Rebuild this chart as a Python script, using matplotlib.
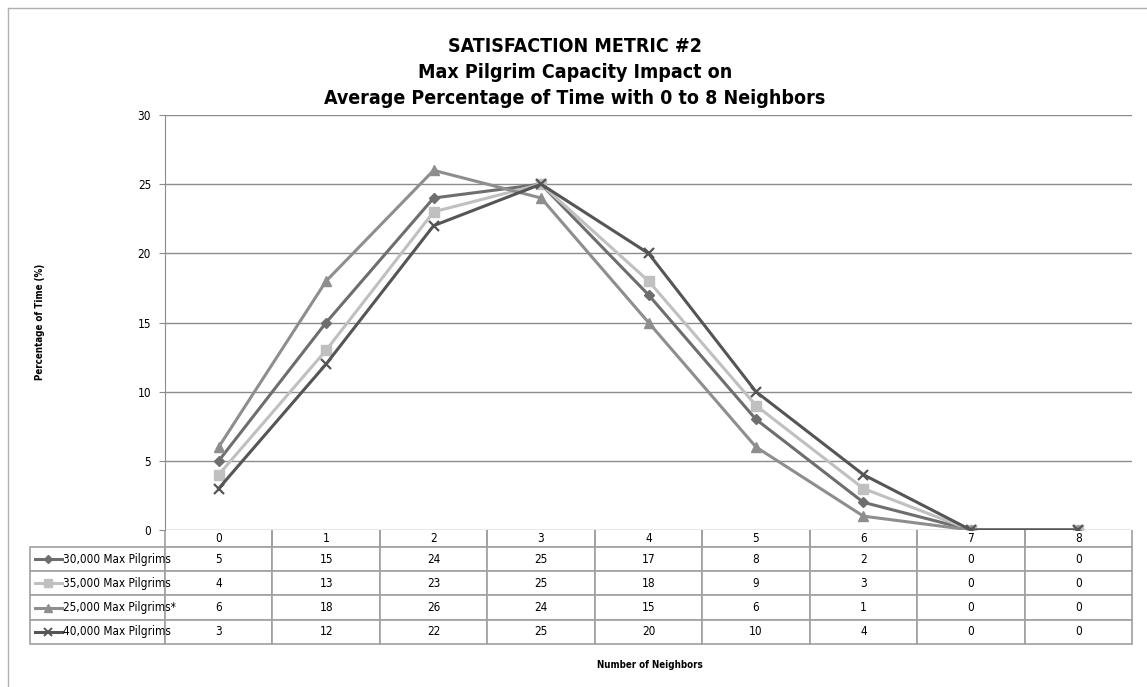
import matplotlib.pyplot as plt
from matplotlib.lines import Line2D

# data
neighbors = ['0', '1', '2', '3', '4', '5', '6', '7', '8']
series_names = ['30,000 Max Pilgrims', '35,000 Max Pilgrims',
                '25,000 Max Pilgrims*', '40,000 Max Pilgrims']
pilgrims_30k = [5, 15, 24, 25, 17, 8, 2, 0, 0]
pilgrims_35k = [4, 13, 23, 25, 18, 9, 3, 0, 0]
pilgrims_25k = [6, 18, 26, 24, 15, 6, 1, 0, 0]
pilgrims_40k = [3, 12, 22, 25, 20, 10, 4, 0, 0]

values = [pilgrims_30k, pilgrims_35k, pilgrims_25k, pilgrims_40k]
colors = ['#6e6e6e', '#c0c0c0', '#8e8e8e', '#555555']
markers = ['D', 's', '^', 'x']
msizes = [5.5, 7.5, 7.5, 7.5]

plt.rcParams['font.family'] = ['DejaVu Sans']
plt.rcParams['font.stretch'] = 'condensed'

W, H = 1147, 687
fig = plt.figure(figsize=(W / 100, H / 100), dpi=100)

# outer frame of the chart area
fig.add_artist(Line2D([8 / W, 8 / W], [0, 1 - 8 / H], transform=fig.transFigure,
                      color='#b0b0b0', lw=1))
fig.add_artist(Line2D([8 / W, 1], [1 - 8 / H, 1 - 8 / H], transform=fig.transFigure,
                      color='#b0b0b0', lw=1))

x0, x1, ytop, ybot = 165, 1132, 115, 530
ax = fig.add_axes([x0 / W, 1 - ybot / H, (x1 - x0) / W, (ybot - ytop) / H])
axh = ybot - ytop
axw = x1 - x0

xs = list(range(len(neighbors)))
for vals, c, m, ms in zip(values, colors, markers, msizes):
    ax.plot(xs, vals, color=c, marker=m, markersize=ms, linewidth=2.2,
            markeredgewidth=1.6 if m == 'x' else 1, zorder=3)

ax.set_xlim(-0.5, len(neighbors) - 0.5)
ax.set_ylim(0, 30)
ax.set_yticks(range(0, 31, 5))
ax.set_xticks([])
ax.grid(axis='y', color='#8c8c8c', linewidth=1)
ax.set_axisbelow(True)
for s in ['top', 'right', 'bottom']:
    ax.spines[s].set_visible(False)
ax.spines['left'].set_color('#8c8c8c')
ax.tick_params(axis='y', length=4, color='#8c8c8c', labelsize=8.5, pad=6)

# data table under the plot
cell_text = [[''] + neighbors]
for vals in values:
    cell_text.append([''] + [str(v) for v in vals])
tx0 = 30
table = ax.table(cellText=cell_text, cellLoc='center',
                 bbox=[(tx0 - x0) / axw, -(644 - ybot) / axh,
                       (x1 - tx0) / axw, (644 - ybot) / axh])
table.auto_set_font_size(False)
table.set_fontsize(8.5)
for (r, c), cell in table.get_celld().items():
    cell.set_edgecolor('#a0a0a0')
    cell.set_linewidth(1.2)
    cell.set_width(135 if c == 0 else 107.4)
    cell.set_height(17 if r == 0 else 24.3)
    if r == 0 and c == 0:
        cell.visible_edges = ''
    if r == 0 and c > 0:
        cell.visible_edges = 'LRB'

# legend keys inside row labels
row_centers = [559, 583, 608, 632]
for name, yc, c, m, ms in zip(series_names, row_centers, colors, markers, msizes):
    ya = (ybot - yc) / axh
    ax.plot([(35 - x0) / axw, (62 - x0) / axw], [ya, ya], transform=ax.transAxes,
            color=c, lw=2.2, clip_on=False)
    ax.plot([(48 - x0) / axw], [ya], transform=ax.transAxes, color=c, marker=m,
            markersize=ms * 0.75, markeredgewidth=1.4 if m == 'x' else 1,
            clip_on=False)
    ax.text((63 - x0) / axw, ya, name, transform=ax.transAxes, fontsize=8.5,
            va='center', ha='left')

fig.text(40 / W, 1 - 322 / H, 'Percentage of Time (%)', rotation=90, fontsize=7,
         fontweight='bold', ha='center', va='center')
fig.text(650 / W, 1 - 665 / H, 'Number of Neighbors', fontsize=7,
         fontweight='bold', ha='center', va='center')

title_lines = ['SATISFACTION METRIC #2', 'Max Pilgrim Capacity Impact on',
               'Average Percentage of Time with 0 to 8 Neighbors']
for i, t in enumerate(title_lines):
    fig.text(575 / W, 1 - (47 + 26 * i) / H, t, fontsize=14, fontweight='bold',
             ha='center', va='center')

fig.savefig('out.png', dpi=100)
